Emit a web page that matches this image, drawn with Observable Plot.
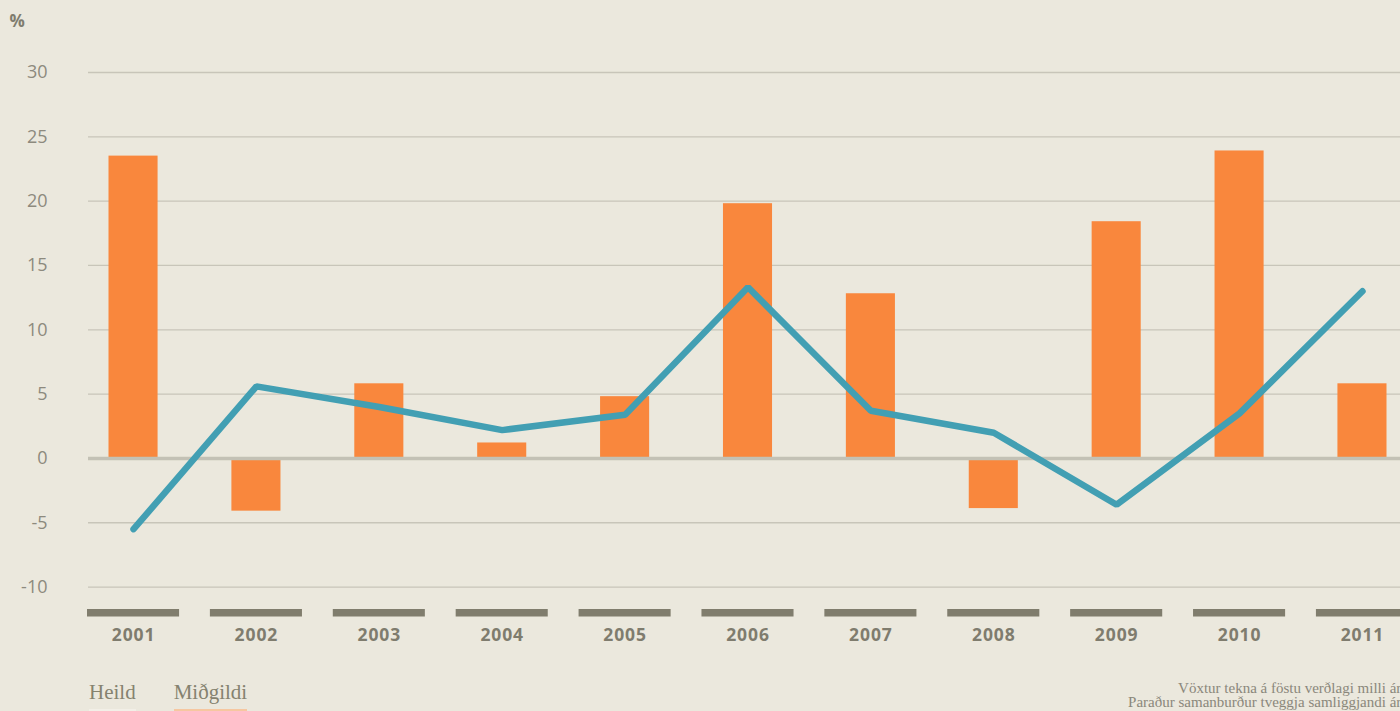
<!DOCTYPE html>
<html>
<head>
<meta charset="utf-8">
<script src="https://cdn.jsdelivr.net/npm/d3@7"></script>
<script src="https://cdn.jsdelivr.net/npm/@observablehq/plot@0.6"></script>
<style>
html, body { margin: 0; padding: 0; background: #ebe8dd; overflow: hidden; width: 1400px; height: 711px; }
#chart svg { display: block; }
#chart svg g[aria-label="x-axis tick label"] text { letter-spacing: 0.9px; }
.bottom { position: relative; width: 1400px; height: 51px; overflow: hidden; font-family: "Liberation Serif", serif; }
.legend { position: absolute; left: 89px; top: 0; height: 51px; display: flex; gap: 38px; }
.item { position: relative; height: 51px; }
.item .lab { display: block; margin-top: 21.7px; font-size: 21px; line-height: 21px; color: #85826f; white-space: nowrap; }
.item .swatch { position: absolute; left: 0; right: 0; top: 49px; height: 3px; }
.caption { position: absolute; right: -8px; top: 22.2px; text-align: right; font-size: 15px; line-height: 13.5px; color: #8a877b; white-space: nowrap; }
</style>
</head>
<body>
<div id="chart"></div>
<div class="bottom">
  <div class="legend" id="legend"></div>
  <div class="caption" id="caption"></div>
</div>
<script>
// ---- data ----
const years = ["2001", "2002", "2003", "2004", "2005", "2006", "2007", "2008", "2009", "2010", "2011"];
const midgildi = [23.5, -4.1, 5.8, 1.2, 4.8, 19.8, 12.8, -3.9, 18.4, 23.9, 5.8];   // bars (Miðgildi)
const heild = [-5.5, 5.6, 4.0, 2.2, 3.4, 13.3, 3.7, 2.0, -3.6, 3.5, 13.0];        // line (Heild)
const yTicks = [-10, -5, 0, 5, 10, 15, 20, 25, 30];
const yUnit = "%";
const seriesNames = ["Heild", "Miðgildi"];
const captionLines = ["Vöxtur tekna á föstu verðlagi milli ára", "Paraður samanburður tveggja samliggjandi ára"];

// ---- styles ----
const colors = { bar: "#f9873d", line: "#429fb3", grid: "#c8c5b9", zero: "#c3c1b5", axisBand: "#807d6d", yText: "#8d8a7e", xText: "#7f7c6e" };
const legendSwatch = ["#f2efe7", "#f6c7a0"];
const axisBandLevel = -12;

const barData = years.map((year, i) => ({ year, value: midgildi[i] }));
const lineData = years.map((year, i) => ({ year, value: heild[i] }));

const chart = Plot.plot({
  width: 1400,
  height: 660,
  marginTop: 72,
  marginBottom: 40,
  marginLeft: 88,
  marginRight: 0,
  style: { background: "#ebe8dd", fontFamily: "'Open Sans', sans-serif" },
  x: { type: "band", domain: years, range: [87, 1408], paddingInner: 0.2508, paddingOuter: 0, round: false, label: null },
  y: { domain: [-12.6, 30], ticks: yTicks, label: null },
  marks: [
    Plot.gridY(yTicks, { stroke: colors.grid, strokeOpacity: 1, strokeWidth: 1.3 }),
    Plot.axisY(yTicks, { tickSize: 0, tickPadding: 41, fontSize: 18, fill: colors.yText, label: null, tickFormat: d => String(d) }),
    Plot.axisX({ tickSize: 0, tickPadding: 8, fontSize: 17.5, fontWeight: 700, fill: colors.xText, label: null }),
    Plot.tickY(years, { x: d => d, y: () => axisBandLevel, stroke: colors.axisBand, strokeWidth: 7.5 }),
    Plot.barY(barData, { x: "year", y: "value", fill: colors.bar, insetLeft: 21.5, insetRight: 21.5 }),
    Plot.ruleY([0], { stroke: colors.zero, strokeWidth: 3.5 }),
    Plot.line(lineData, { x: "year", y: "value", stroke: colors.line, strokeWidth: 6.5, strokeLinecap: "round", strokeLinejoin: "miter" }),
    Plot.text([yUnit], { frameAnchor: "top-left", dx: -79, dy: -58, textAnchor: "start", fontSize: 17, fontWeight: 700, fill: colors.xText })
  ]
});
document.getElementById("chart").appendChild(chart);

// legend
const legend = document.getElementById("legend");
seriesNames.forEach((name, i) => {
  const item = document.createElement("div");
  item.className = "item";
  const lab = document.createElement("span");
  lab.className = "lab";
  lab.textContent = name;
  const sw = document.createElement("div");
  sw.className = "swatch";
  sw.style.background = legendSwatch[i];
  item.appendChild(lab);
  item.appendChild(sw);
  legend.appendChild(item);
});

// caption
const cap = document.getElementById("caption");
captionLines.forEach(t => {
  const d = document.createElement("div");
  d.textContent = t;
  cap.appendChild(d);
});
</script>
</body>
</html>
